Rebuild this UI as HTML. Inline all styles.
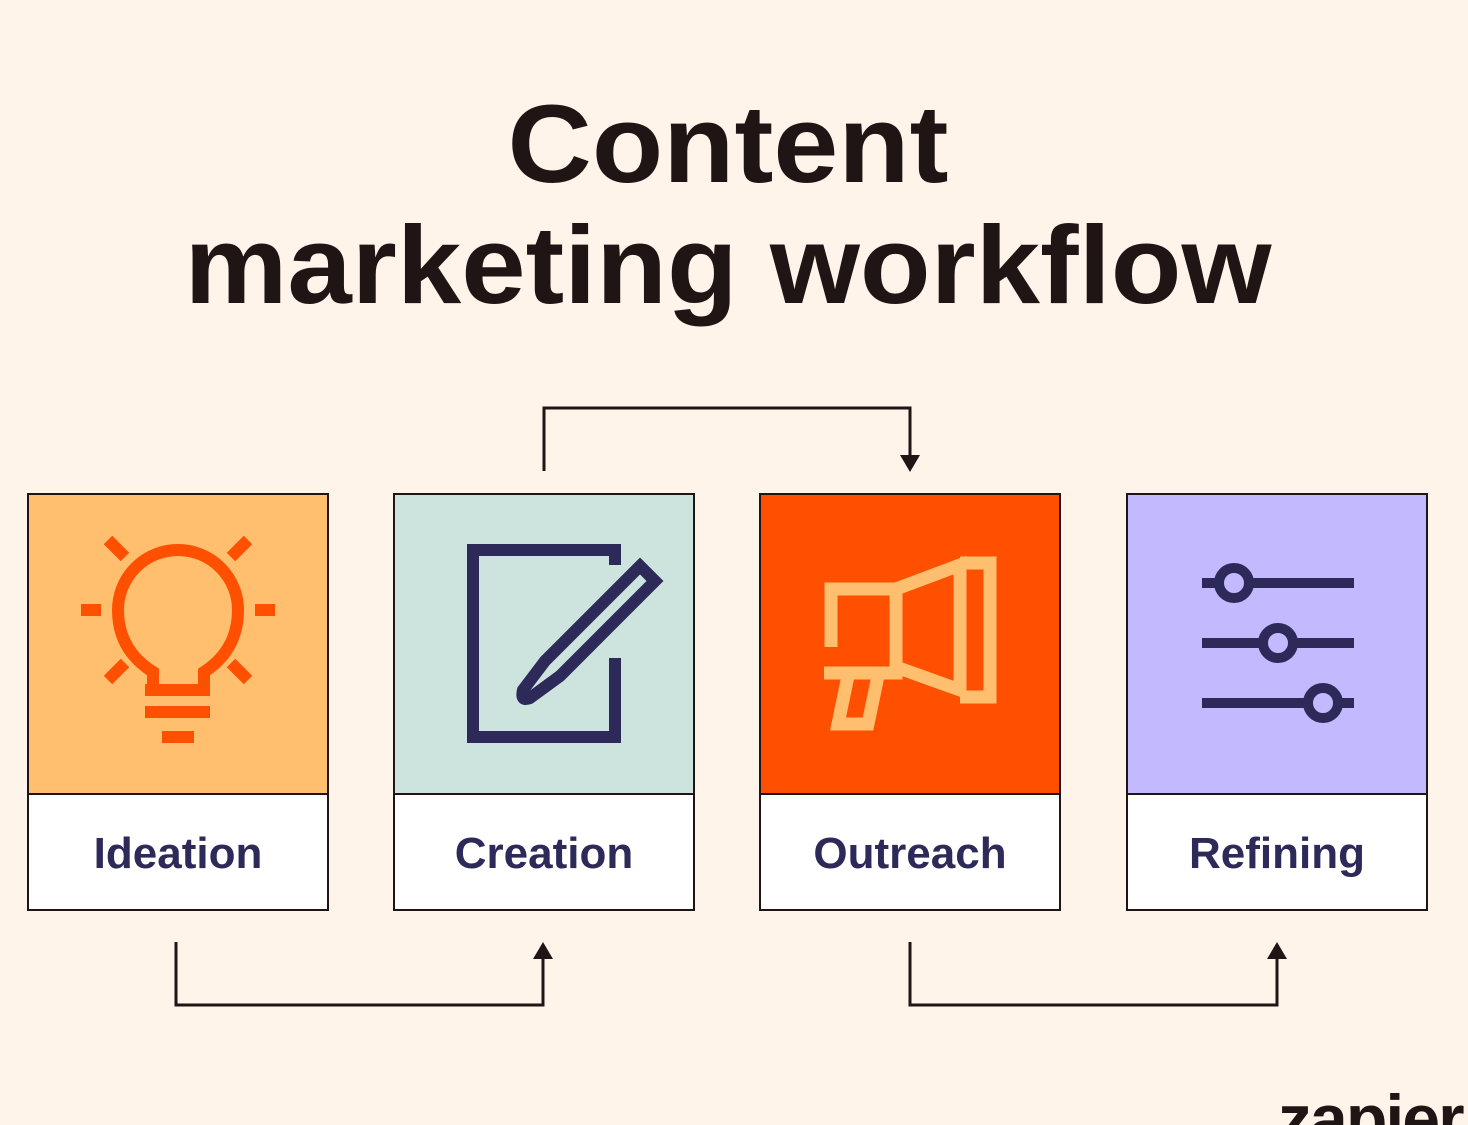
<!DOCTYPE html>
<html><head><meta charset="utf-8"><style>
html,body{margin:0;padding:0;background:#FEF4EA;}
svg{display:block}
</style></head><body>
<svg width="1468" height="1125" viewBox="0 0 1468 1125" xmlns="http://www.w3.org/2000/svg">
<rect width="1468" height="1125" fill="#FEF4EA"/>
<g font-family="Liberation Sans, sans-serif" font-weight="bold" fill="#201515" text-anchor="middle">
<text x="728" y="182" font-size="110" textLength="441" lengthAdjust="spacingAndGlyphs">Content</text>
<text x="728" y="303" font-size="110" textLength="1087" lengthAdjust="spacingAndGlyphs">marketing workflow</text>
</g>
<!-- connectors -->
<g fill="none" stroke="#201515" stroke-width="3">
<path d="M544,471 V408 H910 V458"/>
<path d="M176,942 V1005 H543 V955"/>
<path d="M910,942 V1005 H1277 V955"/>
</g>
<g fill="#201515">
<polygon points="900,455 920,455 910,472"/>
<polygon points="533,959 553,959 543,942"/>
<polygon points="1267,959 1287,959 1277,942"/>
</g>
<!-- boxes -->
<g stroke="#201515" stroke-width="2">
<rect x="28" y="494" width="300" height="300" fill="#FFBF6E"/>
<rect x="28" y="794" width="300" height="116" fill="#FFFFFF"/>
<rect x="394" y="494" width="300" height="300" fill="#CDE4DE"/>
<rect x="394" y="794" width="300" height="116" fill="#FFFFFF"/>
<rect x="760" y="494" width="300" height="300" fill="#FF4F00"/>
<rect x="760" y="794" width="300" height="116" fill="#FFFFFF"/>
<rect x="1127" y="494" width="300" height="300" fill="#C3B9FF"/>
<rect x="1127" y="794" width="300" height="116" fill="#FFFFFF"/>
</g>
<g font-family="Liberation Sans, sans-serif" font-weight="bold" fill="#2D2A5A" font-size="44" text-anchor="middle">
<text x="178" y="868">Ideation</text>
<text x="544" y="868">Creation</text>
<text x="910" y="868">Outreach</text>
<text x="1277" y="868">Refining</text>
</g>
<!-- bulb -->
<g fill="none" stroke="#FF4F00" stroke-width="12">
<path d="M153,690 V672 Q118,650 118,610 A60,60 0 1 1 238,610 Q238,650 204,672 V690"/>
<path d="M145,690 H210 M145,712 H210 M162,737 H194"/>
<path d="M81,610 H101 M255,610 H275 M108,540 L125,557 M248,540 L231,557 M108,680 L125,663 M248,680 L231,663"/>
</g>
<!-- document + pencil -->
<g fill="none" stroke="#2D2A5A" stroke-width="12">
<path d="M615,565 V550 H473 V737 H615 V658"/>
<path d="M640,566 L655,581 L560,676 L530,698 Q520,702 523,690 L545,661 Z"/>
</g>
<!-- megaphone -->
<g fill="none" stroke="#FFBF6E" stroke-width="13">
<path d="M831,647 V589 H896 V673 H824"/>
<path d="M896,589 L960,565 V690 L896,667"/>
<path d="M960,563 H990 V697 H960"/>
<path d="M848,676 L838,724 H868 L878,676"/>
</g>
<!-- sliders -->
<g stroke="#2D2A5A" stroke-width="10" fill="#C3B9FF">
<path d="M1202,583 H1354 M1202,643 H1354 M1202,703 H1354"/>
<circle cx="1234" cy="583" r="15"/>
<circle cx="1278" cy="643" r="15"/>
<circle cx="1323" cy="703" r="15"/>
</g>
<text x="1278" y="1142" font-family="Liberation Sans, sans-serif" font-weight="bold" font-size="68" fill="#201515" letter-spacing="-2">zapier</text>
</svg>
</body></html>
